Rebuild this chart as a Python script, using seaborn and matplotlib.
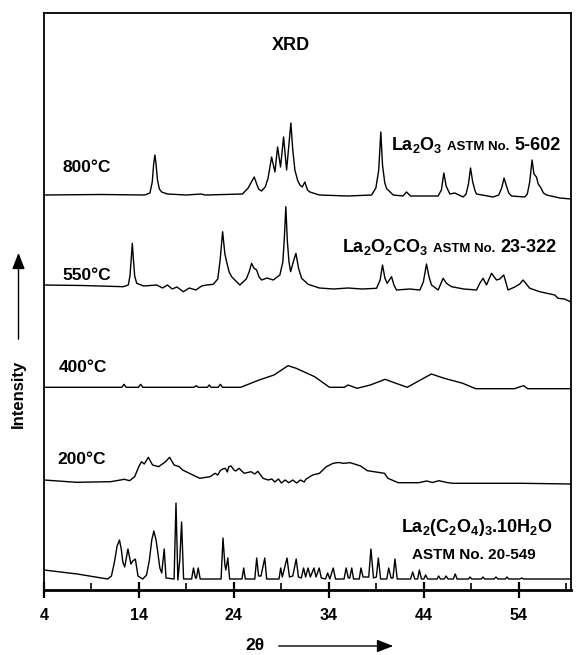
import numpy as np
import pandas as pd
import matplotlib
matplotlib.use("Agg")
import matplotlib.pyplot as plt
import seaborn as sns

sns.set_theme(style="white")
plt.rcParams["font.family"] = ["Liberation Sans", "DejaVu Sans"]
plt.rcParams["font.weight"] = "bold"
plt.rcParams["mathtext.default"] = "regular"
plt.rcParams["text.color"] = "black"
plt.rcParams["xtick.color"] = "black"
plt.rcParams["xtick.labelcolor"] = "black"

# XRD traces: (2theta, stacked intensity in plot units)
pts_800 = [(4.0, 395), (10, 395.5), (14.6, 395), (15.16, 397), (15.4, 408), (15.55, 426), (15.68, 435),
           (15.8, 426), (15.95, 410), (16.15, 401), (16.39, 398), (17, 396), (19, 395), (20.5, 396),
           (21, 395), (23, 395.5), (24.9, 396), (25.5, 402), (25.9, 409), (26.14, 413), (26.4, 406),
           (26.6, 401), (26.91, 399), (27.3, 403), (27.6, 412), (27.97, 433), (28.32, 418), (28.6, 443),
           (28.91, 423), (29.23, 453), (29.55, 420), (30.0, 467), (30.2, 440), (30.42, 420), (30.7, 410),
           (30.95, 405), (31.2, 403), (31.47, 408), (31.75, 400), (32.0, 398), (33, 395), (36, 394),
           (38.5, 395), (38.95, 402), (39.25, 420), (39.47, 458), (39.65, 425), (39.89, 407), (40.1, 401),
           (40.24, 400), (40.77, 395), (41.8, 394), (42.18, 398), (42.6, 394), (45.5, 394), (45.85, 400),
           (46.11, 417), (46.35, 404), (46.74, 396), (47.26, 397), (48.14, 393), (48.45, 396), (48.7, 406),
           (48.92, 422), (49.15, 408), (49.4, 399), (49.55, 396), (51.3, 393), (51.89, 395), (52.2, 402),
           (52.45, 412), (52.7, 404), (52.95, 397), (53.23, 394), (54.63, 393), (54.9, 396), (55.15, 408),
           (55.4, 430), (55.6, 416), (55.86, 413), (56.05, 406), (56.28, 403), (56.6, 397), (56.92, 395),
           (58.32, 392), (59.5, 391)]

pts_550 = [(4.0, 305), (8, 304.5), (12.35, 303.3), (12.88, 305), (13.05, 314), (13.18, 330), (13.3, 346.7),
           (13.42, 330), (13.55, 314), (13.76, 306.7), (14.5, 304), (15.86, 305), (16.5, 302), (17.0, 305),
           (17.5, 301), (18.0, 303), (18.67, 298.3), (19.3, 302), (20.0, 300), (20.6, 304), (21.13, 305),
           (21.82, 305.7), (22.3, 311), (22.55, 330), (22.81, 358.3), (23.05, 336), (23.23, 328.3),
           (23.5, 318), (23.76, 313.3), (24.2, 309), (24.63, 305), (25.3, 311), (25.6, 318), (25.86, 326.7),
           (26.1, 322), (26.39, 320), (26.65, 313), (26.92, 310), (27.5, 312), (28.14, 310), (28.84, 315),
           (29.15, 328), (29.3, 350), (29.47, 383.3), (29.62, 350), (29.8, 328), (29.97, 318.3),
           (30.25, 328), (30.53, 336.7), (30.8, 322), (31.13, 311.7), (31.82, 305.7), (33, 302),
           (34.5, 301), (36, 302), (37.5, 301), (39.02, 301.7), (39.4, 310), (39.65, 325), (39.9, 312),
           (40.14, 306.7), (40.6, 313.3), (40.85, 305), (41.13, 300), (42.5, 301), (43.58, 300),
           (43.95, 308), (44.28, 326), (44.55, 313), (44.81, 305), (45.51, 300), (46.03, 311.7),
           (46.39, 306.7), (46.92, 303.3), (48.2, 301), (49.55, 300), (49.89, 306.7), (50.24, 311.7),
           (50.6, 305), (51.13, 316.7), (51.65, 310), (52.0, 311), (52.42, 315), (52.87, 300),
           (53.58, 303), (54.1, 306), (54.45, 310), (55.16, 301.7), (56.21, 298.3), (57.79, 295),
           (58.14, 291.7), (58.8, 291), (59.5, 288)]

pts_400 = [(4.0, 202.7), (12.2, 202.7), (12.43, 205.7), (12.65, 202.7), (13.95, 202.7), (14.18, 205.7),
           (14.4, 202.7), (19.8, 202.7), (20.03, 204.3), (20.25, 202.7), (21.2, 202.7), (21.4, 205),
           (21.6, 202.7), (22.35, 202.7), (22.57, 205.7), (22.8, 202.7), (24.71, 202.7), (26.66, 210),
           (28.22, 215), (29.7, 224.3), (30.56, 221.7), (32.5, 213.3), (34.07, 202.7), (35.63, 202.7),
           (36.01, 205), (36.99, 201.7), (38.36, 205), (39.92, 210.7), (40.89, 207.3), (42.25, 202.7),
           (44.79, 216), (46.15, 211.7), (48.1, 206.7), (49.46, 201.3), (53.56, 201.3), (54.15, 203.3),
           (54.54, 204.3), (54.93, 201.3), (59.5, 201.3)]

pts_200 = [(4.0, 110), (7.42, 107.7), (11.03, 108.3), (12.47, 110.7), (13.01, 109.3), (13.55, 113.3),
           (13.98, 123.3), (14.27, 128.3), (14.56, 126), (14.99, 132.7), (15.43, 125), (16.07, 123.3),
           (16.8, 128.3), (17.23, 132.7), (17.7, 125), (18.24, 123.3), (18.6, 120), (19.68, 115),
           (20.4, 111.7), (21.48, 113.3), (22.02, 116.7), (22.3, 115), (22.56, 119.3), (22.8, 121),
           (23.1, 121.7), (23.3, 118), (23.46, 123.3), (23.7, 124), (24.0, 120), (24.2, 119), (24.54, 121.7),
           (25.08, 116.7), (25.8, 118.3), (26.2, 116), (26.52, 118.7), (27.06, 111.7), (27.61, 110),
           (28.0, 111), (28.3, 108), (28.69, 111), (29.0, 107), (29.4, 110), (29.77, 107.3), (30.2, 110),
           (30.6, 107), (31.0, 110), (31.4, 108), (31.57, 110.7), (32.29, 115), (33.01, 116.7),
           (33.73, 123.3), (34.45, 126.7), (35.0, 127.5), (35.54, 126.7), (36.26, 127.3), (37.34, 124),
           (38.06, 119.3), (39.86, 116.7), (40.22, 111.7), (41.3, 107.3), (43.46, 107.3), (44.3, 109),
           (44.9, 107.5), (45.6, 109.3), (46.53, 107.3), (47.07, 106.7), (50.67, 106.7), (54.28, 106.7),
           (59.5, 106)]

pts_ref = [(4.0, 20), (7.5, 16), (10.7, 11), (11.1, 14), (11.4, 27), (11.7, 44), (11.95, 50), (12.15, 40),
           (12.3, 28), (12.5, 23), (12.84, 41), (13.15, 26), (13.35, 29), (13.62, 31), (13.9, 14),
           (14.4, 11), (14.8, 15), (15.1, 30), (15.35, 50), (15.57, 59), (15.8, 50), (15.95, 40),
           (16.2, 22), (16.4, 17), (16.66, 41), (16.85, 12), (17.7, 11), (17.9, 87), (18.1, 10),
           (18.3, 30), (18.49, 68), (18.7, 11), (19.55, 11), (19.74, 22), (19.95, 12), (20.05, 12),
           (20.24, 22), (20.45, 11), (22.65, 11), (22.85, 52), (23.05, 25), (23.15, 20), (23.36, 32),
           (23.55, 11), (24.85, 11), (25.03, 22), (25.2, 11), (26.2, 11), (26.4, 32), (26.6, 14),
           (26.85, 14), (27.25, 32), (27.45, 11), (28.75, 11), (28.93, 22), (29.1, 13), (29.59, 32),
           (29.85, 13), (30.2, 14), (30.56, 31), (30.8, 13), (31.1, 12), (31.34, 22), (31.55, 13),
           (31.81, 22), (32.05, 13), (32.43, 22), (32.65, 13), (32.98, 22), (33.2, 12), (33.65, 11),
           (33.87, 17), (34.1, 11), (34.46, 22), (34.7, 11), (35.6, 11), (35.82, 22), (36.05, 12),
           (36.2, 12), (36.41, 22), (36.6, 11), (37.2, 11), (37.38, 22), (37.6, 13), (38.2, 13),
           (38.43, 41), (38.7, 12), (39.0, 13), (39.21, 32), (39.45, 11), (40.1, 11), (40.3, 22),
           (40.55, 12), (40.75, 12), (40.96, 31), (41.2, 11), (42.6, 11), (42.83, 18), (43.05, 11),
           (43.35, 11), (43.53, 20), (43.75, 11), (44.0, 11), (44.19, 15), (44.4, 11), (45.4, 11),
           (45.56, 14), (45.75, 11), (46.15, 11), (46.34, 14), (46.55, 11), (47.1, 11), (47.31, 16),
           (47.5, 11), (48.7, 11), (48.87, 13), (49.05, 11), (50.05, 11), (50.23, 13), (50.4, 11),
           (51.4, 11), (51.6, 13), (51.8, 11), (52.6, 11), (52.76, 13), (52.95, 11), (54.1, 11),
           (54.32, 12), (54.5, 11), (59.5, 11)]

samples = ["800", "550", "400", "200", "ref"]
temp_labels = ["800°C", "550°C", "400°C", "200°C"]
major_ticks = [4, 14, 24, 34, 44, 54]
minor_ticks = [9, 19, 29, 39, 49, 59]

frames = []
for name, pts in zip(samples, [pts_800, pts_550, pts_400, pts_200, pts_ref]):
    arr = np.array(pts)
    frames.append(pd.DataFrame({"two_theta": arr[:, 0], "intensity": arr[:, 1], "sample": name}))
df = pd.concat(frames, ignore_index=True)

fig = plt.figure(figsize=(5.79, 6.55), dpi=100)
ax = fig.add_axes([44 / 579, 65 / 655, 527 / 579, 577 / 655])

sns.lineplot(data=df, x="two_theta", y="intensity", units="sample", estimator=None, sort=False,
             color="black", linewidth=1.0, legend=False, ax=ax)

ax.set_xlim(4, 59.5)
ax.set_ylim(0, 577)
ax.set_xticks(major_ticks)
ax.set_xticks(minor_ticks, minor=True)
ax.set_yticks([])
ax.set_xlabel("")
ax.set_ylabel("")
ax.tick_params(axis="x", which="major", bottom=True, direction="inout", length=12, width=1.6,
               pad=7, labelsize=11.5, colors="black")
ax.tick_params(axis="x", which="minor", bottom=True, direction="in", length=5, width=1.2, colors="black")
for s in ax.spines.values():
    s.set_color("black")
    s.set_linewidth(1.3)
ax.spines["bottom"].set_linewidth(2.0)


def label_run(x, y, pieces):
    # consecutive text pieces on one baseline with different sizes
    prev = ax.text(x, y, pieces[0][0], fontsize=pieces[0][1], ha="left", va="baseline")
    for s, fs in pieces[1:]:
        prev = ax.annotate(s, xy=(1, y), xycoords=(prev, "data"), xytext=(3.5, 0),
                           textcoords="offset points", fontsize=fs, ha="left", va="baseline")


ax.text(30.0, 545, "XRD", fontsize=13, ha="center", va="center")

for lab, (lx, ly) in zip(temp_labels, [(6.0, 423), (5.9, 315), (5.6, 222), (5.4, 130)]):
    ax.text(lx, ly, lab, fontsize=12.5, ha="left", va="center")

label_run(40.5, 440, [("La$_2$O$_3$", 13), ("ASTM No.", 9.5), ("5-602", 13)])
label_run(35.4, 338, [("La$_2$O$_2$CO$_3$", 13), ("ASTM No.", 9.5), ("23-322", 13)])
ax.text(49.55, 58, "La$_2$(C$_2$O$_4$)$_3$.10H$_2$O", fontsize=13, ha="center", va="baseline")
ax.text(49.3, 31, "ASTM No. 20-549", fontsize=11, ha="center", va="baseline")

# axis captions with arrows
arrow_style = "-|>,head_length=0.9,head_width=0.35"
fig.text(18.5 / 579, 1 - 394 / 655, "Intensity", rotation=90, fontsize=12, ha="center", va="center")
fig.add_artist(matplotlib.patches.FancyArrowPatch((18.5 / 579, 1 - 342 / 655), (18.5 / 579, 1 - 250 / 655),
                                                  transform=fig.transFigure, arrowstyle=arrow_style,
                                                  mutation_scale=11, color="black", lw=1.0))
fig.text(255 / 579, 1 - 645 / 655, "2θ", fontsize=12.5, ha="center", va="center")
fig.add_artist(matplotlib.patches.FancyArrowPatch((276 / 579, 1 - 646 / 655), (396 / 579, 1 - 646 / 655),
                                                  transform=fig.transFigure, arrowstyle=arrow_style,
                                                  mutation_scale=11, color="black", lw=1.0))

fig.savefig("out.png", dpi=100)
